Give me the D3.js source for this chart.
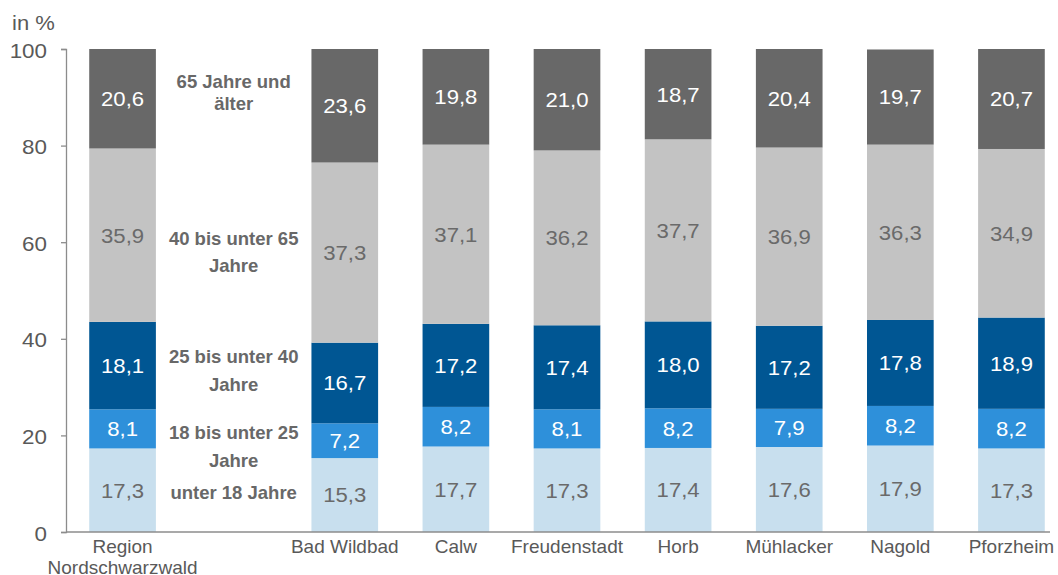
<!DOCTYPE html>
<html>
<head>
<meta charset="utf-8">
<script src="https://cdn.jsdelivr.net/npm/d3@7"></script>
<style>
  body { margin: 0; background: #fff; }
  svg { display: block; font-family: "Liberation Sans", Arial, sans-serif; }
</style>
</head>
<body>
<svg id="chart" width="1058" height="575"></svg>
<script>
// Altersstruktur der Bevölkerung (in %)
const categories = ["Region Nordschwarzwald", "", "Bad Wildbad", "Calw", "Freudenstadt", "Horb", "Mühlacker", "Nagold", "Pforzheim"];
const places = ["Region Nordschwarzwald", "Bad Wildbad", "Calw", "Freudenstadt", "Horb", "Mühlacker", "Nagold", "Pforzheim"];
const unter18   = [17.3, 15.3, 17.7, 17.3, 17.4, 17.6, 17.9, 17.3];
const bis25     = [8.1, 7.2, 8.2, 8.1, 8.2, 7.9, 8.2, 8.2];
const bis40     = [18.1, 16.7, 17.2, 17.4, 18.0, 17.2, 17.8, 18.9];
const bis65     = [35.9, 37.3, 37.1, 36.2, 37.7, 36.9, 36.3, 34.9];
const ab65      = [20.6, 23.6, 19.8, 21.0, 18.7, 20.4, 19.7, 20.7];
const seriesNames = ["unter 18 Jahre", "18 bis unter 25 Jahre", "25 bis unter 40 Jahre", "40 bis unter 65 Jahre", "65 Jahre und älter"];
const yTicks = [0, 20, 40, 60, 80, 100];

const seriesValues = [unter18, bis25, bis40, bis65, ab65];
const fills = ["#c8dfee", "#2e90da", "#005693", "#c3c3c3", "#686868"];
const textFills = ["#6a6a6a", "#ffffff", "#ffffff", "#6a6a6a", "#ffffff"];

const svg = d3.select("#chart");
const x = d3.scaleBand().domain(categories).range([67, 1067]).paddingInner(0.4).paddingOuter(0.2);
const y = d3.scaleLinear().domain([0, 100]).range([532, 49]);

// rows for stacking
const rows = places.map((p, i) => {
  const r = { place: p };
  seriesNames.forEach((s, k) => { r[s] = seriesValues[k][i]; });
  return r;
});
const stacked = d3.stack().keys(seriesNames)(rows);

const layers = svg.append("g").selectAll("g").data(stacked).join("g")
  .attr("fill", (d, k) => fills[k]);

layers.selectAll("rect").data(d => d).join("rect")
  .attr("x", d => x(d.data.place))
  .attr("width", x.bandwidth())
  .attr("y", d => y(Math.min(100, d[1])))
  .attr("height", d => y(d[0]) - y(Math.min(100, d[1])));

const fmt = v => d3.format(".1f")(v).replace(".", ",");

// value labels, slightly widened
svg.append("g").selectAll("g").data(stacked).join("g")
  .attr("fill", (d, k) => textFills[k])
  .selectAll("text").data(d => d).join("text")
  .attr("transform", d => `translate(${x(d.data.place) + x.bandwidth() / 2},${(y(d[0]) + y(Math.min(100, d[1]))) / 2}) scale(1.08,1)`)
  .attr("dy", "0.36em")
  .attr("text-anchor", "middle")
  .attr("font-size", 20.5)
  .text(d => fmt(d[1] - d[0]));

// y axis
const yAxis = svg.append("g")
  .attr("transform", "translate(66,0)")
  .call(d3.axisLeft(y).tickValues(yTicks).tickSize(5).tickPadding(14));
yAxis.select(".domain").attr("stroke", "#8c8c8c").attr("stroke-width", 1.3);
yAxis.selectAll(".tick line").attr("stroke", "#8c8c8c").attr("stroke-width", 1.3);
yAxis.selectAll(".tick text")
  .attr("font-size", 20)
  .attr("fill", "#595959")
  .attr("dy", "0.4em")
  .attr("font-family", "Liberation Sans, Arial, sans-serif");
yAxis.selectAll(".tick text").each(function () {
  const t = d3.select(this);
  t.attr("transform", `translate(${t.attr("x")},0) scale(1.12,1)`).attr("x", 0);
});

// x axis baseline
svg.append("line")
  .attr("x1", 66).attr("x2", 1050)
  .attr("y1", y(0)).attr("y2", y(0))
  .attr("stroke", "#8c8c8c").attr("stroke-width", 1.3);

// category labels
const xLab = svg.append("g").attr("fill", "#595959").attr("font-size", 19).attr("text-anchor", "middle");
places.forEach(p => {
  const cx = x(p) + x.bandwidth() / 2;
  const parts = p === "Region Nordschwarzwald" ? ["Region", "Nordschwarzwald"] : [p];
  parts.forEach((t, j) => {
    xLab.append("text").attr("x", cx).attr("y", 553 + j * 20.5).text(t);
  });
});

// unit label
svg.append("text").attr("transform", "translate(12,30) scale(1.1,1)")
  .attr("fill", "#595959").attr("font-size", 20).text("in %");

// series names placed in the empty slot next to the region bar
const legendLines = [
  ["65 Jahre und", 88], ["älter", 110],
  ["40 bis unter 65", 245], ["Jahre", 272],
  ["25 bis unter 40", 363], ["Jahre", 391],
  ["18 bis unter 25", 439], ["Jahre", 467],
  ["unter 18 Jahre", 499]
];
const lx = x("") + x.bandwidth() / 2;
svg.append("g").attr("fill", "#686868").attr("font-size", 18.5).attr("font-weight", "bold")
  .attr("text-anchor", "middle")
  .selectAll("text").data(legendLines).join("text")
  .attr("x", lx).attr("y", d => d[1]).text(d => d[0]);
</script>
</body>
</html>
